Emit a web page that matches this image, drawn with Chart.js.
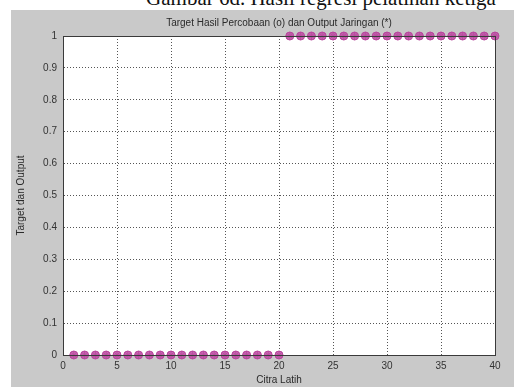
<!DOCTYPE html>
<html>
<head>
<meta charset="utf-8">
<script src="https://cdn.jsdelivr.net/npm/chart.js@4/dist/chart.umd.min.js"></script>
<style>
  html, body { margin: 0; padding: 0; background: #fff; }
  #wrap { position: relative; width: 514px; height: 387px; overflow: hidden; }
  #caption {
    position: absolute; left: 0; width: 514px; top: -14px;
    text-align: center; font-family: "Liberation Serif", "DejaVu Serif", serif;
    font-size: 21px; line-height: 24px; color: #111; padding-left: 128px; box-sizing: border-box;
    white-space: nowrap;
  }
  #figure { position: absolute; left: 11px; top: 10px; right: 0; bottom: 0; background: #c9c9c9; }
  canvas { position: absolute; left: 0; top: 0; }
</style>
</head>
<body>
<div id="wrap">
  <div id="figure"></div>
  <div id="caption">Gambar 6d. Hasil regresi pelatihan ketiga</div>
  <canvas id="regresi" width="514" height="387"></canvas>
</div>
<script>
// Training images 1..40
const citraLatih = [1, 2, 3, 4, 5, 6, 7, 8, 9, 10, 11, 12, 13, 14, 15, 16, 17, 18, 19, 20,
  21, 22, 23, 24, 25, 26, 27, 28, 29, 30, 31, 32, 33, 34, 35, 36, 37, 38, 39, 40];

// Target from the experiment (o)
const targetHasil = [0, 0, 0, 0, 0, 0, 0, 0, 0, 0, 0, 0, 0, 0, 0, 0, 0, 0, 0, 0,
  1, 1, 1, 1, 1, 1, 1, 1, 1, 1, 1, 1, 1, 1, 1, 1, 1, 1, 1, 1];

// Network output (*)
const outputJaringan = [0, 0, 0, 0, 0, 0, 0, 0, 0, 0, 0, 0, 0, 0, 0, 0, 0, 0, 0, 0,
  1, 1, 1, 1, 1, 1, 1, 1, 1, 1, 1, 1, 1, 1, 1, 1, 1, 1, 1, 1];

const xTicks = [0, 5, 10, 15, 20, 25, 30, 35, 40];
const yTicks = [0, 0.1, 0.2, 0.3, 0.4, 0.5, 0.6, 0.7, 0.8, 0.9, 1];

const magenta = '#b8459c';

// white axes background and box frame, matlab style
const axesBox = {
  id: 'axesBox',
  beforeDraw(chart) {
    const { ctx, chartArea: a } = chart;
    ctx.save();
    ctx.fillStyle = '#ffffff';
    ctx.fillRect(a.left, a.top, a.right - a.left, a.bottom - a.top);
    ctx.restore();
  },
  afterDatasetsDraw(chart) {
    const { ctx, chartArea: a } = chart;
    ctx.save();
    ctx.strokeStyle = '#3a3a3a';
    ctx.lineWidth = 1;
    ctx.strokeRect(a.left + 0.5, a.top + 0.5, a.right - a.left, a.bottom - a.top);
    ctx.restore();
  }
};

const toPoints = ys => citraLatih.map((x, i) => ({ x: x, y: ys[i] }));

new Chart(document.getElementById('regresi'), {
  type: 'scatter',
  data: {
    datasets: [
      {
        label: 'Target Hasil Percobaan',
        data: toPoints(targetHasil),
        pointStyle: 'circle',
        pointRadius: 4,
        backgroundColor: 'rgba(190, 80, 165, 0.85)',
        borderColor: magenta,
        borderWidth: 1,
        clip: false
      },
      {
        label: 'Output Jaringan',
        data: toPoints(outputJaringan),
        pointStyle: 'star',
        pointRadius: 4,
        backgroundColor: magenta,
        borderColor: '#a8308c',
        borderWidth: 1,
        clip: false
      }
    ]
  },
  plugins: [axesBox],
  options: {
    responsive: false,
    animation: false,
    layout: { padding: { left: 0, right: 19, top: 0, bottom: 0 } },
    plugins: {
      legend: { display: false },
      tooltip: { enabled: false },
      title: {
        display: true,
        fullSize: false,
        text: 'Target Hasil Percobaan (o) dan Output Jaringan (*)',
        color: '#2a2a2a',
        font: { family: 'Liberation Sans', size: 10, weight: 'normal' },
        padding: { top: 17, bottom: 7 }
      }
    },
    scales: {
      x: {
        type: 'linear',
        min: 0,
        max: 40,
        afterBuildTicks: s => { s.ticks = xTicks.map(v => ({ value: v })); },
        afterFit: s => { s.height = 32; },
        ticks: { color: '#333', font: { family: 'Liberation Sans', size: 10 }, padding: 5, maxRotation: 0 },
        grid: { color: '#555', borderDash: [1, 2], drawTicks: false, lineWidth: 1 },
        border: { color: '#3a3a3a', dash: [1, 2] },
        title: {
          display: true, text: 'Citra Latih', color: '#2a2a2a',
          font: { family: 'Liberation Sans', size: 10 }, padding: { top: 0, bottom: 1 }
        }
      },
      y: {
        min: 0,
        max: 1,
        afterBuildTicks: s => { s.ticks = yTicks.map(v => ({ value: v })); },
        afterFit: s => { s.width = 63; },
        ticks: {
          color: '#333', font: { family: 'Liberation Sans', size: 10 }, padding: 6,
          callback: v => String(Math.round(v * 10) / 10)
        },
        grid: { color: '#555', borderDash: [1, 2], drawTicks: false, lineWidth: 1 },
        border: { color: '#3a3a3a', dash: [1, 2] },
        title: {
          display: true, text: 'Target dan Output', color: '#2a2a2a',
          font: { family: 'Liberation Sans', size: 10 }, padding: { top: 15, bottom: 0 }
        }
      }
    }
  }
});
</script>
</body>
</html>
